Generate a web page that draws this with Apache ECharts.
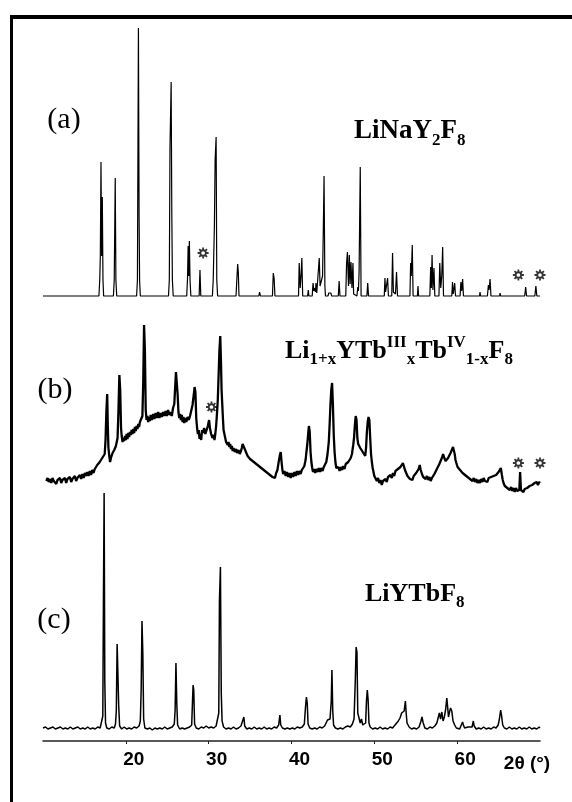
<!DOCTYPE html>
<html>
<head>
<meta charset="utf-8">
<script src="https://cdn.jsdelivr.net/npm/echarts@6/dist/echarts.min.js"></script>
<style>
html,body{margin:0;padding:0;background:#fff;}
#chart{width:572px;height:802px;}
</style>
</head>
<body>
<div id="chart"></div>
<script>
// ---- data: [2theta (deg), intensity (arb. units)] ----
const patternA = [[10,0],[16.75,0],[16.85,16],[16.92,40],[17.0,134],[17.08,40],[17.16,99],[17.24,16],[17.32,0],
[18.5,0],[18.6,16],[18.72,118],[18.8,16],[18.9,0],
[21.3,0],[21.4,16],[21.52,268],[21.6,80],[21.66,16],[21.75,0],
[25.15,0],[25.25,16],[25.33,148],[25.47,214],[25.55,83],[25.62,16],[25.72,0],
[27.35,0],[27.45,18],[27.52,50],[27.6,20],[27.67,55],[27.75,16],[27.85,0],
[28.85,0],[28.95,26],[29.05,0],
[30.45,0],[30.55,16],[30.69,69],[30.78,136],[30.9,159],[30.98,16],[31.08,0],
[33.3,0],[33.4,16],[33.5,32],[33.58,24],[33.66,0],
[36.05,0],[36.15,4],[36.25,0],
[37.7,0],[37.8,23],[37.9,18],[38.0,0],
[40.85,0],[40.93,33],[41.05,8],[41.15,20],[41.25,38],[41.35,0],
[41.95,0],[42.03,6],[42.1,0],[42.5,0],[42.6,13],[42.7,5],[42.8,8],[42.9,4],[42.95,13],[43.05,3],[43.25,5],[43.35,38],[43.45,10],[43.6,12],[43.75,20],[43.83,61],[43.93,120],[44.03,10],[44.1,0],
[44.4,0],[44.5,3],[44.6,1],[44.75,3],[44.85,0],
[45.65,0],[45.75,15],[45.85,0],
[46.55,0],[46.65,33],[46.75,44],[46.88,10],[46.98,41],[47.08,12],[47.18,34],[47.3,8],[47.42,33],[47.5,2],[47.6,0],
[47.9,0],[48.0,9],[48.08,5],[48.16,24],[48.3,129],[48.4,0],
[49.1,0],[49.2,13],[49.3,0],
[51.2,0],[51.28,18],[51.36,4],[51.5,6],[51.6,18],[51.7,0],[52.1,0],[52.2,43],[52.3,4],[52.45,6],[52.55,2],[52.68,24],[52.8,0],
[54.3,0],[54.38,33],[54.46,20],[54.58,51],[54.68,0],[55.2,0],[55.27,10],[55.34,0],
[56.7,0],[56.8,29],[56.88,8],[56.97,41],[57.07,6],[57.2,28],[57.3,0],[57.8,0],[57.9,33],[58.02,8],[58.14,20],[58.25,49],[58.35,0],
[59.35,0],[59.44,14],[59.52,2],[59.6,6],[59.7,13],[59.8,0],[60.35,0],[60.45,14],[60.55,5],[60.66,17],[60.76,0],
[62.7,0],[62.76,4],[62.82,0],[63.65,0],[63.77,11],[63.85,6],[63.97,17],[64.08,0],[65.12,0],[65.18,3],[65.25,0],
[68.15,0],[68.27,9],[68.38,0],[69.38,0],[69.5,10],[69.62,0],[70,0]];

const patternB = [[10.4,19],[10.55,22],[10.7,18],[10.85,21],[11.0,17],[11.15,22],[11.3,19],[11.45,21],[11.6,16],[11.75,20],[11.9,18],[12.05,22],[12.2,17],[12.35,20],[12.5,18],[12.65,22],[12.8,17],[12.95,21],[13.1,19],[13.25,23],[13.4,18],[13.55,21],[13.7,19],[13.85,24],[14.0,19],[14.15,22],[14.3,20],[14.45,25],[14.6,21],[14.75,26],[14.9,22],[15.05,27],[15.2,24],[15.35,28],[15.5,24],[15.65,29],[15.8,25],[15.95,30],[16.1,27],[16.25,31],[16.4,30],[16.55,35],[16.7,33],[16.85,38],[17.0,36],[17.15,42],[17.3,40],[17.45,46],[17.55,60],[17.65,88],[17.75,106],[17.82,75],[17.9,52],[18.0,44],[18.1,38],[18.2,42],[18.3,40],[18.4,47],[18.5,45],[18.6,50],[18.7,48],[18.8,54],[18.9,56],[19.0,62],[19.1,87],[19.22,125],[19.32,110],[19.42,72],[19.5,64],[19.6,58],[19.7,62],[19.8,59],[19.9,64],[20.0,60],[20.1,66],[20.2,61],[20.3,67],[20.4,63],[20.5,68],[20.6,65],[20.7,70],[20.8,66],[20.9,71],[21.0,67],[21.1,73],[21.2,69],[21.3,74],[21.4,71],[21.5,76],[21.6,73],[21.7,78],[21.8,76],[21.9,80],[22.0,84],[22.1,118],[22.2,175],[22.3,150],[22.4,90],[22.5,80],[22.6,84],[22.7,78],[22.8,83],[22.9,79],[23.0,85],[23.15,80],[23.3,86],[23.45,81],[23.6,87],[23.75,82],[23.9,88],[24.05,82],[24.2,87],[24.35,83],[24.5,88],[24.65,84],[24.8,89],[24.95,84],[25.1,90],[25.25,85],[25.4,88],[25.55,84],[25.7,92],[25.85,96],[25.95,112],[26.05,128],[26.15,130],[26.25,106],[26.35,88],[26.45,82],[26.55,86],[26.65,80],[26.75,85],[26.85,78],[26.95,83],[27.05,77],[27.15,82],[27.3,78],[27.45,83],[27.6,80],[27.75,84],[27.9,86],[28.05,95],[28.2,105],[28.3,113],[28.4,108],[28.5,82],[28.6,72],[28.7,66],[28.8,70],[28.9,61],[29.0,66],[29.1,60],[29.2,70],[29.3,67],[29.45,72],[29.6,66],[29.75,70],[29.9,74],[30.05,80],[30.15,72],[30.3,66],[30.45,62],[30.6,65],[30.7,60],[30.8,66],[30.9,74],[31.0,86],[31.1,100],[31.2,125],[31.3,150],[31.4,164],[31.48,140],[31.56,110],[31.64,96],[31.72,82],[31.8,70],[31.9,66],[32.0,62],[32.1,58],[32.2,60],[32.3,55],[32.4,58],[32.5,53],[32.6,56],[32.7,51],[32.8,54],[32.9,49],[33.0,52],[33.15,48],[33.3,51],[33.45,47],[33.6,50],[33.75,46],[33.9,49],[34.0,52],[34.1,56],[34.2,58],[34.3,54],[34.4,50],[34.55,47],[34.7,44],[34.85,46],[35.0,41],[35.15,43],[35.3,39],[35.45,41],[35.6,37],[35.75,39],[35.9,35],[36.05,37],[36.2,33],[36.35,35],[36.5,31],[36.65,33],[36.8,29],[36.95,31],[37.1,27],[37.25,29],[37.4,25],[37.55,27],[37.7,23],[37.85,25],[38.0,22],[38.15,27],[38.3,30],[38.45,38],[38.6,45],[38.7,48],[38.8,38],[38.9,30],[39.0,26],[39.15,29],[39.3,24],[39.45,28],[39.6,23],[39.75,27],[39.9,22],[40.05,27],[40.2,23],[40.35,28],[40.5,24],[40.65,29],[40.8,25],[40.95,29],[41.1,26],[41.25,30],[41.4,28],[41.55,34],[41.7,40],[41.8,48],[41.9,55],[42.0,65],[42.1,74],[42.2,68],[42.3,48],[42.4,38],[42.5,32],[42.6,28],[42.7,31],[42.85,27],[43.0,31],[43.15,28],[43.3,32],[43.45,28],[43.6,32],[43.75,29],[43.9,33],[44.05,32],[44.2,38],[44.35,46],[44.5,58],[44.6,75],[44.7,95],[44.8,110],[44.9,117],[45.0,95],[45.1,65],[45.2,48],[45.3,38],[45.4,32],[45.5,30],[45.65,33],[45.8,29],[45.95,33],[46.1,30],[46.25,34],[46.4,31],[46.55,36],[46.7,34],[46.85,38],[47.0,37],[47.15,42],[47.3,46],[47.45,55],[47.55,62],[47.65,75],[47.75,84],[47.85,80],[47.95,62],[48.05,56],[48.15,58],[48.3,52],[48.45,54],[48.6,48],[48.75,46],[48.9,44],[49.0,52],[49.1,68],[49.2,78],[49.3,83],[49.4,80],[49.5,62],[49.6,46],[49.7,38],[49.8,32],[49.9,28],[50.0,24],[50.15,22],[50.3,19],[50.45,22],[50.6,17],[50.75,20],[50.9,15],[51.05,19],[51.2,17],[51.35,21],[51.5,18],[51.65,23],[51.8,21],[51.95,25],[52.1,22],[52.25,27],[52.4,24],[52.55,29],[52.7,27],[52.85,31],[53.0,29],[53.15,33],[53.3,31],[53.45,37],[53.55,35],[53.7,30],[53.85,27],[54.0,24],[54.15,26],[54.3,21],[54.45,23],[54.6,20],[54.75,24],[54.9,22],[55.05,27],[55.2,26],[55.35,31],[55.48,35],[55.6,30],[55.75,26],[55.9,23],[56.05,25],[56.2,21],[56.35,24],[56.5,20],[56.65,23],[56.8,19],[56.95,22],[57.1,21],[57.25,26],[57.4,28],[57.55,31],[57.7,33],[57.85,36],[58.0,39],[58.15,42],[58.3,46],[58.45,42],[58.6,39],[58.75,41],[58.9,42],[59.05,44],[59.2,47],[59.35,50],[59.5,53],[59.6,55],[59.7,46],[59.8,40],[59.9,37],[60.05,33],[60.2,35],[60.35,30],[60.5,32],[60.65,27],[60.8,29],[60.95,25],[61.1,27],[61.25,23],[61.4,25],[61.55,21],[61.7,23],[61.85,19],[62.0,22],[62.15,18],[62.3,21],[62.45,17],[62.6,20],[62.75,17],[62.9,21],[63.05,18],[63.2,22],[63.35,19],[63.5,21],[63.65,18],[63.8,22],[63.95,20],[64.1,23],[64.25,21],[64.4,24],[64.55,22],[64.7,25],[64.85,26],[65.0,28],[65.15,30],[65.27,32],[65.4,25],[65.5,20],[65.6,17],[65.75,14],[65.9,16],[66.05,12],[66.2,14],[66.35,10],[66.5,13],[66.65,9],[66.8,12],[66.95,8],[67.1,12],[67.25,9],[67.4,11],[67.5,10],[67.6,28],[67.7,10],[67.85,12],[68.0,8],[68.15,11],[68.3,9],[68.45,12],[68.6,10],[68.75,14],[68.9,12],[69.05,15],[69.2,13],[69.35,17],[69.5,15],[69.6,18],[69.75,15],[69.9,18],[70.0,17]];

const patternC = [[10.0,13],[10.3,14],[10.6,12],[10.9,13],[11.2,14],[11.5,12],[11.8,13],[12.1,14],[12.4,12],[12.7,13],[13.0,12],[13.3,14],[13.6,12],[13.9,13],[14.2,14],[14.5,12],[14.8,13],[15.1,12],[15.4,14],[15.7,12],[16.0,13],[16.3,12],[16.6,14],[16.9,13],[17.1,15],[17.22,25],[17.3,146],[17.38,248],[17.46,60],[17.55,18],[17.7,13],[18.0,12],[18.3,14],[18.6,13],[18.75,17],[18.85,30],[18.95,97],[19.05,95],[19.14,35],[19.25,15],[19.5,12],[19.8,14],[20.1,12],[20.4,13],[20.7,12],[21.0,14],[21.3,13],[21.6,15],[21.75,20],[21.85,51],[21.95,120],[22.05,88],[22.15,22],[22.3,13],[22.6,12],[22.9,13],[23.2,11],[23.5,13],[23.8,12],[24.1,13],[24.4,12],[24.7,14],[25.0,12],[25.3,13],[25.6,14],[25.85,17],[25.95,31],[26.05,78],[26.15,38],[26.25,16],[26.5,12],[26.8,13],[27.1,12],[27.4,13],[27.7,14],[27.95,16],[28.05,40],[28.12,56],[28.2,51],[28.3,17],[28.5,13],[28.8,12],[29.1,14],[29.4,13],[29.7,15],[30.0,13],[30.3,14],[30.6,13],[30.9,15],[31.1,17],[31.22,28],[31.3,140],[31.42,174],[31.52,48],[31.62,20],[31.8,14],[32.1,12],[32.4,13],[32.7,12],[33.0,14],[33.3,12],[33.6,13],[33.9,15],[34.1,17],[34.25,24],[34.35,15],[34.6,12],[34.9,13],[35.2,12],[35.5,14],[35.8,12],[36.1,13],[36.4,12],[36.7,14],[37.0,12],[37.3,13],[37.6,12],[37.9,14],[38.2,13],[38.45,16],[38.6,26],[38.7,16],[38.9,13],[39.2,12],[39.5,13],[39.8,12],[40.1,13],[40.4,12],[40.7,14],[41.0,13],[41.3,14],[41.55,17],[41.7,35],[41.8,44],[41.9,38],[42.0,17],[42.2,13],[42.5,12],[42.8,13],[43.1,12],[43.4,14],[43.7,13],[44.0,15],[44.2,17],[44.35,21],[44.5,19],[44.65,22],[44.8,40],[44.88,71],[44.98,30],[45.08,16],[45.3,13],[45.6,12],[45.9,13],[46.2,12],[46.5,14],[46.8,15],[47.1,14],[47.35,17],[47.55,22],[47.7,60],[47.8,94],[47.9,89],[48.0,28],[48.1,26],[48.2,28],[48.3,18],[48.45,22],[48.6,16],[48.8,14],[48.95,18],[49.05,40],[49.15,51],[49.25,41],[49.35,18],[49.5,14],[49.8,12],[50.1,13],[50.4,12],[50.7,14],[51.0,12],[51.3,13],[51.6,12],[51.9,14],[52.2,13],[52.5,16],[52.7,18],[52.9,20],[53.1,23],[53.3,28],[53.45,27],[53.6,30],[53.75,40],[53.85,27],[53.95,18],[54.2,14],[54.5,12],[54.8,13],[55.1,12],[55.4,14],[55.6,19],[55.75,24],[55.9,18],[56.1,13],[56.4,12],[56.7,14],[57.0,13],[57.3,15],[57.55,18],[57.7,23],[57.85,28],[58.0,22],[58.15,29],[58.3,20],[58.45,24],[58.6,31],[58.75,43],[58.85,34],[58.95,24],[59.05,28],[59.2,33],[59.35,30],[59.5,20],[59.7,16],[59.9,13],[60.1,14],[60.3,12],[60.5,14],[60.65,19],[60.75,16],[60.9,13],[61.1,12],[61.3,14],[61.5,13],[61.8,14],[61.95,20],[62.05,15],[62.3,12],[62.6,13],[62.9,12],[63.2,14],[63.5,12],[63.8,13],[64.1,12],[64.4,14],[64.7,13],[64.95,16],[65.1,22],[65.25,31],[65.35,26],[65.5,16],[65.7,13],[66.0,12],[66.3,14],[66.6,12],[66.9,13],[67.2,12],[67.5,14],[67.8,12],[68.1,13],[68.4,12],[68.7,14],[69.0,12],[69.3,13],[69.6,12],[69.9,14],[70.0,13]];

// impurity marks (stars) [2theta, intensity]
const starsA = [[29.33,43],[67.39,21],[70.0,21]];
const starsB = [[30.34,93],[67.39,37],[70.0,37]];

const xTickLabels = [20, 30, 40, 50, 60];
const panelLabels = ['(a)', '(b)', '(c)'];
const xAxisTitle = '2\u03b8 (\u00b0)';

// ---- chart ----
const chart = echarts.init(document.getElementById('chart'), null, {renderer: 'canvas'});
const starPath = 'path://M15,10 A5,5 0 1,1 5,10 A5,5 0 1,1 15,10 Z M10,0 L10,3.5 M10,16.5 L10,20 M0,10 L3.5,10 M16.5,10 L20,10 M2.9,2.9 L5.3,5.3 M14.7,14.7 L17.1,17.1 M2.9,17.1 L5.3,14.7 M14.7,5.3 L17.1,2.9';

function xAx(idx, show) {
  return {
    gridIndex: idx, type: 'value', min: 10, max: 70, interval: 10,
    show: show,
    axisLine: {show: true, onZero: false, lineStyle: {color: '#222', width: 1.6}},
    axisTick: {show: true, length: 3, lineStyle: {color: '#222', width: 1}},
    splitLine: {show: false},
    axisLabel: {
      show: true, margin: 9, padding: [0, 0, 0, 16],
      fontSize: 19, fontWeight: 'bold', color: '#000', fontFamily: 'Liberation Sans',
      showMinLabel: false, showMaxLabel: false,
      formatter: v => xTickLabels.indexOf(v) >= 0 ? String(v) : ''
    }
  };
}
function yAx(idx, max) {
  return {gridIndex: idx, type: 'value', min: 0, max: max, show: false};
}
function lineS(idx, data, w) {
  return {type: 'line', xAxisIndex: idx, yAxisIndex: idx, data: data, symbol: 'none',
    lineStyle: {color: '#000', width: w}, silent: true, clip: false};
}
function starS(idx, data) {
  return {type: 'scatter', xAxisIndex: idx, yAxisIndex: idx, data: data, symbol: starPath,
    symbolSize: 11, itemStyle: {color: 'none', borderColor: '#000', borderWidth: 1.8}, silent: true, clip: false};
}

const serif = 'Liberation Serif';
function formula(x, y, text, fs, sfs) {
  const lh = Math.round(fs * 1.3);
  return {
    type: 'text', x: x, y: y, silent: true,
    style: {
      text: text, verticalAlign: 'top', align: 'left',
      rich: {
        m: {fontSize: fs, fontFamily: serif, fontWeight: 'bold', fill: '#000', lineHeight: lh},
        s: {fontSize: sfs, fontFamily: serif, fontWeight: 'bold', fill: '#000', lineHeight: sfs, verticalAlign: 'bottom'},
        p: {fontSize: sfs, fontFamily: serif, fontWeight: 'bold', fill: '#000', lineHeight: sfs, verticalAlign: 'top'}
      }
    }
  };
}
function plain(x, y, text, font) {
  return {type: 'text', x: x, y: y, silent: true,
    style: {text: text, font: font, fill: '#000', align: 'center', verticalAlign: 'middle'}};
}

const option = {
  animation: false,
  backgroundColor: '#fff',
  grid: [
    {left: 43, width: 497, top: 28, height: 268},
    {left: 43, width: 497, top: 300, height: 200},
    {left: 43, width: 497, top: 421, height: 320}
  ],
  xAxis: [xAx(0, false), xAx(1, false), xAx(2, true)],
  yAxis: [yAx(0, 268), yAx(1, 200), yAx(2, 320)],
  series: [
    lineS(0, patternA, 1.2), lineS(1, patternB, 2.3), lineS(2, patternC, 1.5),
    starS(0, starsA), starS(1, starsB)
  ],
  graphic: [
    {type: 'line', shape: {x1: 11.5, y1: 15, x2: 11.5, y2: 802}, style: {stroke: '#000', lineWidth: 3}},
    {type: 'line', shape: {x1: 10, y1: 17, x2: 572, y2: 17}, style: {stroke: '#000', lineWidth: 4}},
    plain(64, 120, panelLabels[0], '30px Liberation Serif'),
    plain(55, 390, panelLabels[1], '30px Liberation Serif'),
    plain(54, 620, panelLabels[2], '30px Liberation Serif'),
    formula(354, 114, '{m|LiNaY}{s|2}{m|F}{s|8}', 27, 17),
    formula(285, 334, '{m|Li}{s|1+x}{m|YTb}{p|III}{s|x}{m|Tb}{p|IV}{s|1-x}{m|F}{s|8}', 26, 17),
    formula(365, 577, '{m|LiYTbF}{s|8}', 26, 17),
    plain(527, 764, xAxisTitle, 'bold 19px Liberation Sans')
  ]
};
chart.setOption(option);
</script>
</body>
</html>
